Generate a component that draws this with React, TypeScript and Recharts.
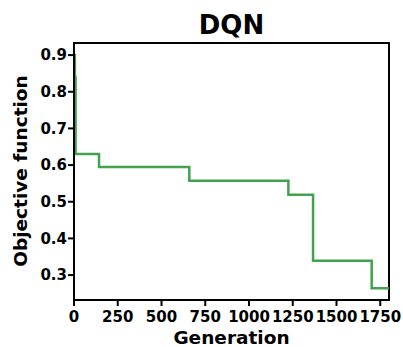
import { LineChart, Line, XAxis, YAxis, ReferenceArea } from 'recharts';

// step history of the best objective value found so far
const generations = [0, 5, 9, 143, 659, 1225, 1366, 1701, 1800];
const objective = [0.9, 0.84, 0.63, 0.595, 0.557, 0.519, 0.339, 0.264, 0.264];
const xTicks = [0, 250, 500, 750, 1000, 1250, 1500, 1750];
const yTicks = [0.3, 0.4, 0.5, 0.6, 0.7, 0.8, 0.9];
const xDomain = [0, 1800];
const yDomain = [0.232, 0.933];

const data = generations.map((g, i) => ({ gen: g, value: objective[i] }));

const font = '"DejaVu Sans", sans-serif';
const tickStyle = { fontSize: 15, fontWeight: 'bold', fill: '#000', fontFamily: font };
const axisLine = { stroke: '#000', strokeWidth: 2 };

export default function App() {
  return (
    <div style={{ position: 'fixed', left: 0, top: 0, width: 403, height: 347, background: '#fff' }}>
      <div
        style={{
          position: 'absolute',
          left: 74,
          width: 315,
          top: 8,
          textAlign: 'center',
          fontFamily: font,
          fontWeight: 'bold',
          fontSize: 26,
          lineHeight: '34px',
        }}
      >
        DQN
      </div>
      <LineChart
        width={403}
        height={347}
        data={data}
        margin={{ top: 43, right: 14, bottom: 0, left: 0 }}
      >
        <XAxis
          dataKey="gen"
          type="number"
          domain={xDomain}
          ticks={xTicks}
          allowDataOverflow
          height={47}
          axisLine={axisLine}
          tickLine={axisLine}
          tickSize={6}
          tickMargin={5}
          tick={tickStyle}
          interval={0}
          label={({ viewBox }: any) => (
            <text
              x={viewBox.x + viewBox.width / 2}
              y={344}
              textAnchor="middle"
              fontFamily={font}
              fontWeight="bold"
              fontSize={18.5}
              fill="#000"
            >
              Generation
            </text>
          )}
        />
        <YAxis
          type="number"
          domain={yDomain}
          ticks={yTicks}
          allowDataOverflow
          width={74}
          axisLine={axisLine}
          tickLine={axisLine}
          tickSize={6}
          tickMargin={1}
          tick={tickStyle}
          tickFormatter={(v: number) => v.toFixed(1)}
          label={() => (
            <text
              x={0}
              y={0}
              transform="translate(27, 171) rotate(-90)"
              textAnchor="middle"
              fontFamily={font}
              fontWeight="bold"
              fontSize={18.5}
              fill="#000"
            >
              Objective function
            </text>
          )}
        />
        <Line
          type="stepAfter"
          dataKey="value"
          stroke="#41a24f"
          strokeWidth={2.5}
          dot={false}
          isAnimationActive={false}
        />
        <ReferenceArea
          x1={xDomain[0]}
          x2={xDomain[1]}
          y1={yDomain[0]}
          y2={yDomain[1]}
          fill="none"
          fillOpacity={0}
          stroke="#000"
          strokeWidth={2}
        />
      </LineChart>
    </div>
  );
}
